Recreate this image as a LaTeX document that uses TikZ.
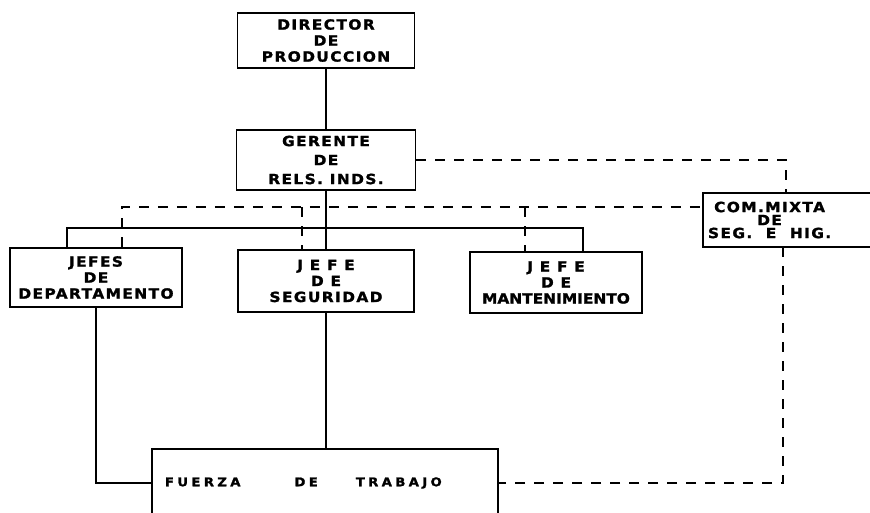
\documentclass[tikz,border=0pt]{standalone}
\usepackage{fontspec}
\newfontfamily\organofont{DejaVu Sans}[FakeStretch=1.1,LetterSpace=10,FakeBold=1.5]
\usetikzlibrary{positioning,calc}

\tikzset{
  puesto/.style={draw, line width=1.9pt, align=center, inner sep=0pt,
    font=\organofont\bfseries\fontsize{14}{16}\selectfont},
  rotulo/.style={align=center, inner sep=0pt,
    font=\organofont\bfseries\fontsize{14}{13}\selectfont},
  linea/.style={line width=1.9pt},
  punteado/.style={line width=1.9pt, dash pattern=on 10pt off 9pt},
}

\begin{document}
\begin{tikzpicture}[x=1pt, y=-1pt]
\useasboundingbox (0,0) rectangle (870,512);

% Puestos
\node[puesto, minimum width=177, minimum height=55] (dir) at (326,40.5) {DIRECTOR\\DE\\PRODUCCION};
\node[puesto, minimum width=179, minimum height=60] (ger) at (326,160) {GERENTE\\[3pt]DE\\[3pt]RELS. INDS.};
\node[puesto, minimum width=172, minimum height=59] (jdep) at (96,277.5) {JEFES\\DE\\DEPARTAMENTO};
\node[puesto, minimum width=176, minimum height=62] (jseg) at (326,281) {J E F E\\D E\\SEGURIDAD};
\node[puesto, minimum width=172, minimum height=61] (jman) at (556,282.5) {J E F E\\D E\\{\addfontfeature{LetterSpace=0}MANTENIMIENTO}};

% Comision mixta (caja abierta a la derecha)
\node[minimum width=172, minimum height=54, inner sep=0pt] (com) at (789,220) {};
\draw[linea] (com.north east) -- (com.north west) -- (com.south west) -- (com.south east);
\node[rotulo, right=5pt of com.west] (comt) {COM.MIXTA\\DE\\SEG.~~E~~HIG.};

% Fuerza de trabajo
\node[puesto, minimum width=346, minimum height=68, text width=320, inner xsep=13pt, align=left,
  font=\organofont\bfseries\fontsize{12}{13}\selectfont\addfontfeature{LetterSpace=28}]
  (fza) at (325,483) {FUERZA\hspace*{54pt}DE\hspace*{38pt}TRABAJO};

% Lineas de mando
\coordinate (busl) at (67,228);
\coordinate (busr) at (583,228);
\draw[linea] (dir) -- (ger);
\draw[linea] (ger) -- (jseg);
\draw[linea] (jseg.south) -- (jseg.south |- fza.north);
\draw[linea] (jdep.north -| busl) |- (busr) -- (busr |- jman.north);
\draw[linea] (jdep.south) |- (fza.west);

% Lineas de coordinacion
\coordinate (comup) at (786,193);
\coordinate (comdn) at (783,247);
\coordinate (punl) at (122,207);
\coordinate (pseg) at (302,207);
\coordinate (pman) at (525,207);
\draw[punteado] (ger.east) -| (comup);
\draw[punteado] (jdep.north -| punl) |- (com.west |- punl);
\draw[punteado] (pseg) -- (pseg |- jseg.north);
\draw[punteado] (pman) -- (pman |- jman.north);
\draw[punteado] (comdn) |- (fza.east);

\end{tikzpicture}
\end{document}
